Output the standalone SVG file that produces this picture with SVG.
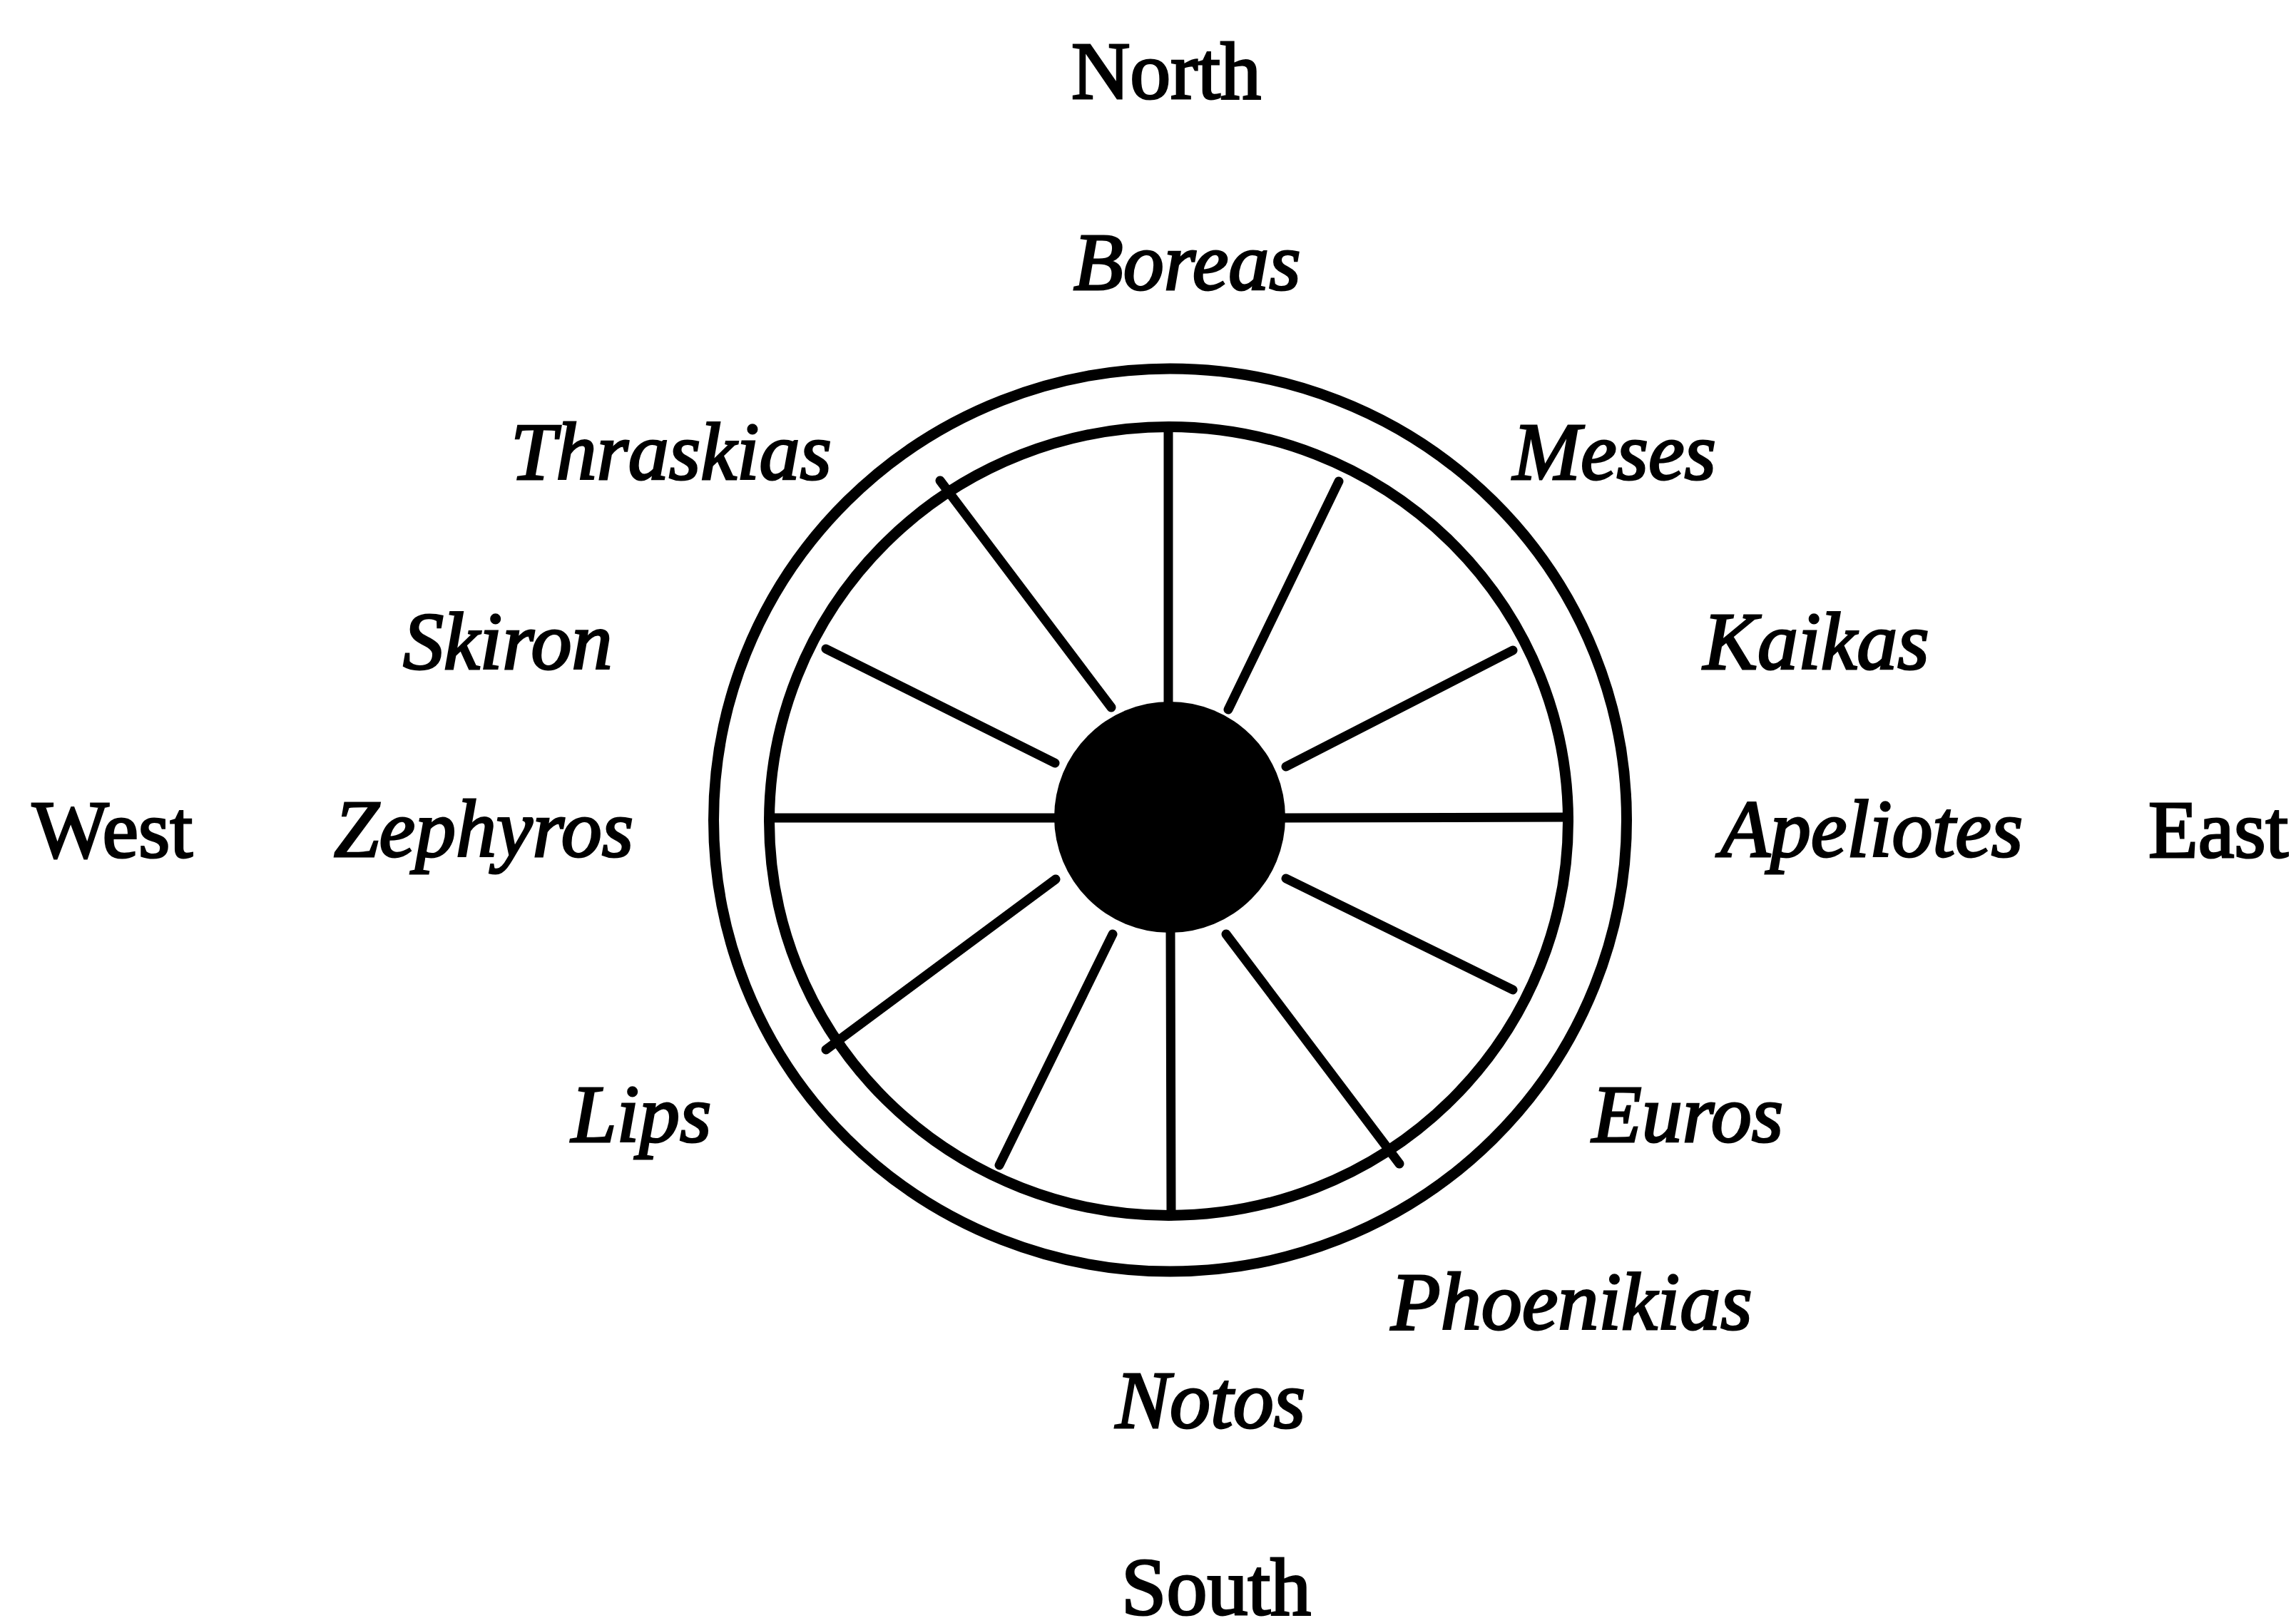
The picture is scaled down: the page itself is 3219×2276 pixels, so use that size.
<svg xmlns="http://www.w3.org/2000/svg" width="3219" height="2276" viewBox="0 0 3219 2276">
<style>
.lbl{font-family:"Liberation Serif","Times New Roman",serif;font-size:114px;fill:#000;stroke:#000;stroke-width:3}
.wind{font-style:italic}
.ring{fill:none;stroke:#000;stroke-width:15}
.spoke{stroke:#000;stroke-width:13;stroke-linecap:round;fill:none}
</style>
<rect width="3219" height="2276" fill="#fff"/>
<g id="wheel">
<ellipse id="outer-ring" class="ring" cx="1640.5" cy="1150" rx="640" ry="633"/>
<ellipse id="inner-ring" class="ring" cx="1638.5" cy="1151.5" rx="560" ry="553"/>
<circle id="hub" cx="1640" cy="1146" r="162" fill="#000"/>
</g>
<g id="connectors">
<line class="spoke" x1="1638" y1="598" x2="1638" y2="990"/>
<line class="spoke" x1="1722" y1="995" x2="1877" y2="675"/>
<line class="spoke" x1="1803" y1="1075" x2="2121" y2="912"/>
<line class="spoke" x1="1800" y1="1147" x2="2199" y2="1146"/>
<line class="spoke" x1="1803" y1="1232" x2="2121" y2="1388"/>
<line class="spoke" x1="1719" y1="1310" x2="1962" y2="1632"/>
<line class="spoke" x1="1641" y1="1305" x2="1642" y2="1705"/>
<line class="spoke" x1="1560" y1="1310" x2="1401" y2="1634"/>
<line class="spoke" x1="1480" y1="1233" x2="1158" y2="1472"/>
<line class="spoke" x1="1078" y1="1147" x2="1480" y2="1147"/>
<line class="spoke" x1="1479" y1="1070" x2="1158" y2="910"/>
<line class="spoke" x1="1558" y1="992" x2="1318" y2="674"/>
</g>
<g id="n-north"><text class="lbl" x="1502" y="138">North</text></g>
<g id="n-south"><text class="lbl" x="1572" y="2264">South</text></g>
<g id="n-west"><text class="lbl" x="45" y="1202">West</text></g>
<g id="n-east"><text class="lbl" x="3012" y="1202">East</text></g>
<g id="n-boreas"><text class="lbl wind" x="1505" y="406">Boreas</text></g>
<g id="n-thraskias"><text class="lbl wind" x="716" y="672">Thraskias</text></g>
<g id="n-meses"><text class="lbl wind" x="2121" y="672">Meses</text></g>
<g id="n-skiron"><text class="lbl wind" x="565" y="938">Skiron</text></g>
<g id="n-kaikas"><text class="lbl wind" x="2388" y="938">Kaikas</text></g>
<g id="n-zephyros"><text class="lbl wind" x="468" y="1201">Zephyros</text></g>
<g id="n-apeliotes"><text class="lbl wind" x="2412" y="1201">Apeliotes</text></g>
<g id="n-lips"><text class="lbl wind" x="801" y="1601">Lips</text></g>
<g id="n-euros"><text class="lbl wind" x="2232" y="1601">Euros</text></g>
<g id="n-phoenikias"><text class="lbl wind" x="1950" y="1864">Phoenikias</text></g>
<g id="n-notos"><text class="lbl wind" x="1564" y="2002">Notos</text></g>
</svg>
